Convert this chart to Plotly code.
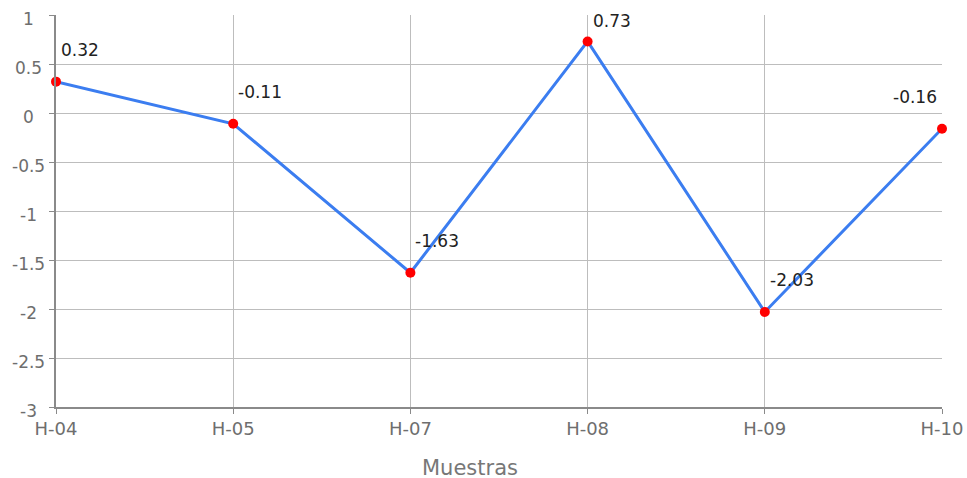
import plotly.graph_objects as go

categories = ["H-04", "H-05", "H-07", "H-08", "H-09", "H-10"]
values = [0.32, -0.11, -1.63, 0.73, -2.03, -0.16]
y_ticks = [1, 0.5, 0, -0.5, -1, -1.5, -2, -2.5, -3]
y_tick_labels = ["1", "0.5", "0", "-0.5", "-1", "-1.5", "-2", "-2.5", "-3"]
x_title = "Muestras"

W, H = 967, 478
L, R, T, B = 56, 25, 15, 71
plot_h = H - T - B
y_min, y_max = -3, 1
px_per_unit = plot_h / (y_max - y_min)

FONT = "DejaVu Sans"
xs = list(range(len(categories)))

fig = go.Figure()
fig.add_trace(go.Scatter(
    x=xs, y=values, mode="lines+markers",
    line=dict(color="#3b7df0", width=3),
    marker=dict(color="#ff0000", size=10),
    cliponaxis=False, hoverinfo="skip",
))

annotations = []
# data labels
for i, v in enumerate(values):
    pt_px = T + (y_max - v) * px_per_unit
    ysh = 32 if pt_px - 32 >= 21 else pt_px - 21
    last = i == len(values) - 1
    annotations.append(dict(
        x=i, y=v, xref="x", yref="y", text=f"{v:.2f}", showarrow=False,
        xanchor="right" if last else "left", yanchor="middle",
        xshift=-3 if last else 3, yshift=ysh,
        font=dict(family=FONT, size=17, color="#222"),
    ))
# y tick labels (centered)
for v, t in zip(y_ticks, y_tick_labels):
    annotations.append(dict(
        x=0, y=v, xref="paper", yref="y", text=t, showarrow=False,
        xanchor="center", yanchor="middle", xshift=-28, yshift=-4,
        font=dict(family=FONT, size=17, color="#6e6e6e"),
    ))
# x axis title
annotations.append(dict(
    x=0.467, y=-0.156, xref="paper", yref="paper", text=x_title, showarrow=False,
    xanchor="center", yanchor="middle",
    font=dict(family=FONT, size=21, color="#777"),
))

fig.update_layout(
    width=W, height=H, margin=dict(l=L, r=R, t=T, b=B, autoexpand=False),
    paper_bgcolor="white", plot_bgcolor="white", showlegend=False,
    annotations=annotations,
)
fig.update_xaxes(
    range=[0, len(categories) - 1], tickmode="array", tickvals=xs, ticktext=categories,
    showgrid=True, gridcolor="#bdbdbd", gridwidth=1,
    showline=True, linecolor="#8a8a8a", linewidth=1.5,
    ticks="outside", ticklen=5, tickcolor="#8a8a8a", automargin=False,
    ticklabeloverflow="allow",
    tickfont=dict(family=FONT, size=18, color="#6e6e6e"), zeroline=False,
)
fig.update_yaxes(
    range=[y_min, y_max], tickmode="array", tickvals=y_ticks, showticklabels=False,
    showgrid=True, gridcolor="#bdbdbd", gridwidth=1,
    showline=True, linecolor="#8a8a8a", linewidth=1.5,
    ticks="outside", ticklen=5, tickcolor="#8a8a8a", zeroline=False, automargin=False,
)
fig.write_html(
    "out.html",
    config={"displayModeBar": False},
    post_script="document.body.style.margin='0';document.body.style.overflow='hidden';",
)
